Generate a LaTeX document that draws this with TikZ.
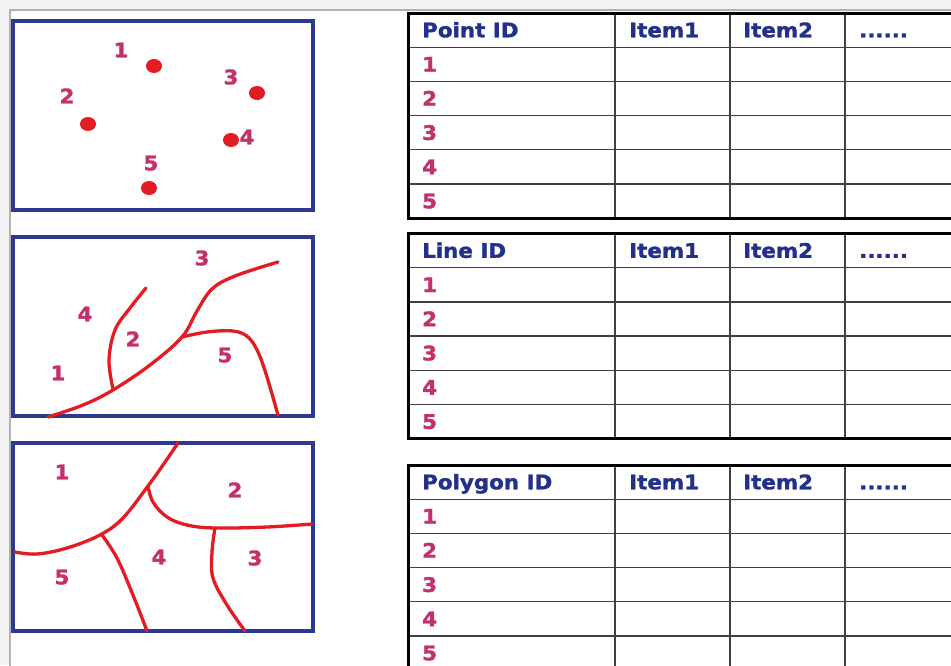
\documentclass[tikz,border=0pt]{standalone}
\usepackage{fontspec}
\setmainfont{DejaVu Sans}[BoldFeatures={FakeBold=1.6, FakeStretch=1.07}]
\definecolor{frameblue}{HTML}{2B3990}
\definecolor{linered}{HTML}{E31B23}
\definecolor{labmag}{HTML}{C4306E}
\definecolor{headblue}{HTML}{22308C}
\tikzset{
  mapbox/.style={draw=frameblue, line width=3.5pt},
  feat/.style={draw=linered, line width=3.3pt, line cap=round, line join=round},
  ptdot/.style={fill=linered, draw=none},
  lab/.style={text=labmag, font=\bfseries\fontsize{20}{20}\selectfont, inner sep=0pt, text height=14.6pt, text depth=0pt},
  num/.style={lab, anchor=west},
  hdr/.style={text=headblue, font=\bfseries\fontsize{20}{20}\selectfont, inner sep=0pt, anchor=west, text height=14.6pt, text depth=0pt},
  cellgrid/.style={draw=black!75, line width=1.3pt},
  tabouter/.style={draw=black, line width=3pt},
  screenframe/.style={draw=black!30, line width=1.5pt},
}
\newcommand\gistable[3]{%
  \foreach \k in {1,...,5} \draw[cellgrid] (408,{#1+34.2*\k}) -- (951,{#1+34.2*\k});
  \foreach \xx in {615,730,845} \draw[cellgrid] (\xx,#1) -- (\xx,{#1+6*34.2});
  \draw[tabouter] (960,#1) -- (408,#1) -- (408,{#1+6*34.2}) -- (960,{#1+6*34.2});
  \node[hdr] (h#2) at (422,{#1+17}) {#3};
  \node[hdr] (ia#2) at (629,{#1+17}) {Item1};
  \node[hdr] (ib#2) at (743,{#1+17}) {Item2};
  \node[hdr] (dots#2) at (859,{#1+17}) {......};
  \foreach \k in {1,...,5} \node[num] (n#2\k) at (422,{#1+34.2*\k+17}) {\k};
}
\begin{document}
\begin{tikzpicture}[x=1pt,y=-1pt]
\clip (0,0) rectangle (951,665);
\fill[white] (0,0) rectangle (951,665);
\fill[black!5] (0,0) rectangle (951,10);
\fill[black!5] (0,0) rectangle (10,665);
\draw[screenframe] (10,670) -- (10,10) -- (960,10);

% ---- points map
\draw[mapbox] (13,21) rectangle (313,210);
\fill[ptdot] (154,66) ellipse [x radius=8, y radius=7];
\fill[ptdot] (257,93) ellipse [x radius=8, y radius=7];
\fill[ptdot] (88,124) ellipse [x radius=8, y radius=7];
\fill[ptdot] (231,140) ellipse [x radius=8, y radius=7];
\fill[ptdot] (149,188) ellipse [x radius=8, y radius=7];
\node[lab] (p1) at (121,50) {1};
\node[lab] (p2) at (67,96) {2};
\node[lab] (p3) at (231,77) {3};
\node[lab] (p4) at (247,137) {4};
\node[lab] (p5) at (151,163) {5};

% ---- lines map
\draw[mapbox] (13,237) rectangle (313,416);
\draw[feat] plot[smooth, tension=0.6] coordinates {(48,417) (83,405) (113,390) (150,365) (182,337) (197,311) (212,289) (235,276) (278,262)};
\draw[feat] plot[smooth, tension=0.6] coordinates {(113,389) (109,360) (115,330) (130,308) (146,288)};
\draw[feat] plot[smooth, tension=0.6] coordinates {(182,337) (207,332) (233,331) (248,337) (258,352) (267,377) (278,415)};
\node[lab] (l3) at (202,258) {3};
\node[lab] (l4) at (85,314) {4};
\node[lab] (l2) at (133,339) {2};
\node[lab] (l5) at (225,355) {5};
\node[lab] (l1) at (58,373) {1};

% ---- polygons map
\draw[mapbox] (13,443) rectangle (313,631);
\draw[feat] plot[smooth, tension=0.6] coordinates {(15,552) (37,554) (67,548) (100,535) (123,518) (148,486) (163,465) (178,443)};
\draw[feat] plot[smooth, tension=0.6] coordinates {(148,486) (153,502) (167,517) (187,525) (215,528) (267,527) (312,524)};
\draw[feat] plot[smooth, tension=0.6] coordinates {(102,535) (117,558) (133,595) (147,631)};
\draw[feat] plot[smooth, tension=0.6] coordinates {(215,528) (212,552) (213,578) (227,605) (245,631)};
\node[lab] (g1) at (62,472) {1};
\node[lab] (g2) at (235,490) {2};
\node[lab] (g4) at (159,557) {4};
\node[lab] (g3) at (255,558) {3};
\node[lab] (g5) at (62,577) {5};

% ---- tables
\gistable{13}{pt}{Point ID}
\gistable{233.5}{ln}{Line ID}
\gistable{465}{pg}{Polygon ID}
\end{tikzpicture}
\end{document}
